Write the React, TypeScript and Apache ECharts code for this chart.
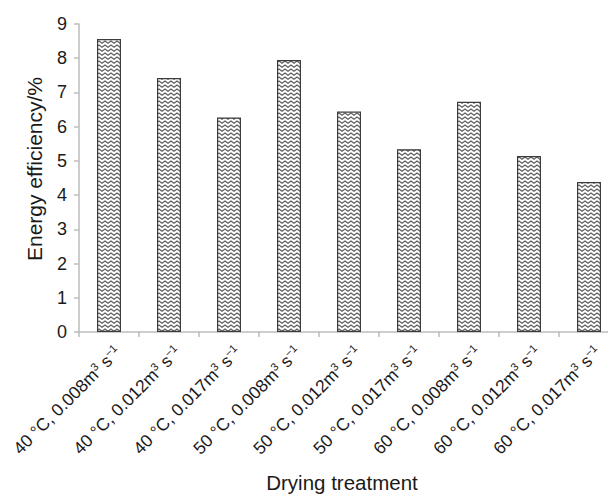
import React, { useEffect, useRef } from "react";
import * as echarts from "echarts";

const temperatures = ["40", "40", "40", "50", "50", "50", "60", "60", "60"];
const airflows = ["0.008", "0.012", "0.017", "0.008", "0.012", "0.017", "0.008", "0.012", "0.017"];
const categories = temperatures.map((t, i) => `${t} °C, ${airflows[i]}m3 s-1`);
const energyEfficiency = [8.56, 7.42, 6.27, 7.95, 6.44, 5.34, 6.73, 5.14, 4.38];
const yTicks = { min: 0, max: 9, interval: 1 };
const xTitle = "Drying treatment";
const yTitle = "Energy efficiency/%";

const FONT = "Liberation Sans, Arial, Helvetica, sans-serif";

const patternSvg =
  '<svg xmlns="http://www.w3.org/2000/svg" width="6" height="4">' +
  '<rect width="6" height="4" fill="#ffffff"/>' +
  '<polyline points="-3,1 0,3.2 3,1 6,3.2 9,1" fill="none" stroke="#5a5a5a" stroke-width="1.1"/>' +
  "</svg>";
const patternUrl = "data:image/svg+xml;charset=utf-8," + encodeURIComponent(patternSvg);

export default function App() {
  const ref = useRef<HTMLDivElement>(null);
  useEffect(() => {
    document.body.style.margin = "0";
    if (!ref.current) return;
    const chart = echarts.init(ref.current, undefined, { renderer: "svg" });
    chart.setOption({
      animation: false,
      backgroundColor: "#ffffff",
      grid: { left: 79, top: 24, bottom: 163, right: -11, containLabel: false, outerBoundsMode: "none" },
      xAxis: {
        type: "category",
        data: categories,
        boundaryGap: true,
        axisLine: { show: true, lineStyle: { color: "#bdbdbd", width: 1.5 } },
        axisTick: { show: true, alignWithLabel: false, length: 5, lineStyle: { color: "#bdbdbd", width: 1.5 } },
        axisLabel: {
          interval: 0,
          rotate: 45,
          margin: 8,
          verticalAlign: "top",
          padding: [3, 0, 0, 0],
          color: "#1a1a1a",
          fontFamily: FONT,
          fontSize: 17.5,
          formatter: (_v: string, idx: number) =>
            `{n|${temperatures[idx]} °C, ${airflows[idx]}m}{s|3}{n| s}{s|−1}`,
          rich: {
            n: { fontSize: 17.5, fontFamily: FONT, color: "#1a1a1a", lineHeight: 20 },
            s: { fontSize: 11, fontFamily: FONT, color: "#1a1a1a", verticalAlign: "top", lineHeight: 20 },
          },
        },
      },
      yAxis: {
        type: "value",
        min: yTicks.min,
        max: yTicks.max,
        interval: yTicks.interval,
        splitLine: { show: false },
        axisLine: { show: true, lineStyle: { color: "#bdbdbd", width: 1.5 } },
        axisTick: { show: true, length: 5, lineStyle: { color: "#bdbdbd", width: 1.5 } },
        axisLabel: { fontSize: 18, color: "#1a1a1a", margin: 12, fontFamily: FONT },
      },
      series: [
        {
          type: "bar",
          data: energyEfficiency,
          barCategoryGap: "60%",
          itemStyle: {
            color: { image: patternUrl, repeat: "repeat" },
            borderColor: "#3c3c3c",
            borderWidth: 1.2,
          },
        },
      ],
      graphic: [
        {
          type: "text",
          x: 34,
          y: 169,
          rotation: Math.PI / 2,
          style: {
            text: yTitle,
            fontSize: 21,
            fill: "#1a1a1a",
            fontFamily: FONT,
            textAlign: "center",
            textVerticalAlign: "middle",
          },
        },
        {
          type: "text",
          x: 342,
          y: 482,
          style: {
            text: xTitle,
            fontSize: 20.5,
            fill: "#1a1a1a",
            fontFamily: FONT,
            textAlign: "center",
            textVerticalAlign: "middle",
          },
        },
      ],
    });
    return () => chart.dispose();
  }, []);
  return <div ref={ref} style={{ width: 608, height: 495 }} />;
}
